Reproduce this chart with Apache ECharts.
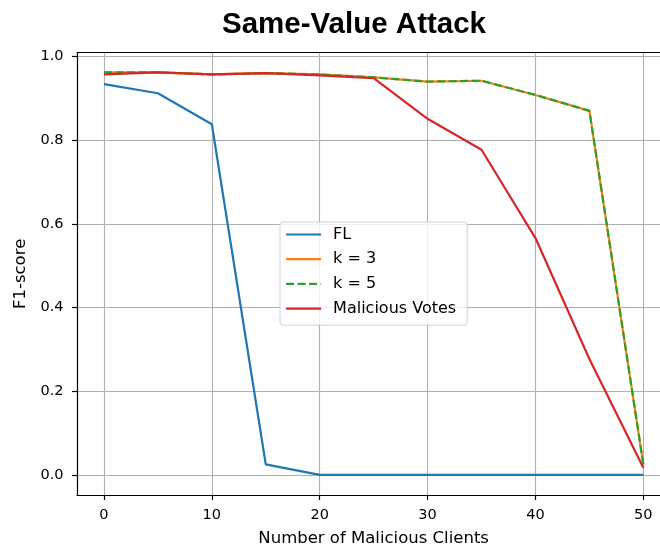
<!DOCTYPE html>
<html>
<head>
<meta charset="utf-8">
<script src="https://cdn.jsdelivr.net/npm/echarts@6/dist/echarts.min.js"></script>
<style>
  html, body { margin: 0; padding: 0; background: #fff; }
  #chart { width: 660px; height: 546px; }
</style>
</head>
<body>
<div id="chart"></div>
<script>
// Number of malicious clients on the x axis
const maliciousClients = [0, 5, 10, 15, 20, 25, 30, 35, 40, 45, 50];

// F1-score per method
const flScores = [0.934, 0.912, 0.838, 0.025, 0.0, 0.0, 0.0, 0.0, 0.0, 0.0, 0.0];
const k3Scores = [0.962, 0.962, 0.957, 0.960, 0.957, 0.950, 0.940, 0.942, 0.908, 0.870, 0.025];
const k5Scores = [0.962, 0.962, 0.957, 0.960, 0.957, 0.950, 0.940, 0.942, 0.908, 0.870, 0.025];
const maliciousVoteScores = [0.957, 0.962, 0.957, 0.960, 0.955, 0.948, 0.851, 0.777, 0.566, 0.277, 0.017];

// Tick positions
const xTicks = [0, 10, 20, 30, 40, 50];
const yTicks = [0.0, 0.2, 0.4, 0.6, 0.8, 1.0];

const FONT = 'DejaVu Sans';

function pairs(values) {
  return maliciousClients.map((x, i) => [x, values[i]]);
}

function lineSeries(name, values, color, dash) {
  return {
    name: name,
    type: 'line',
    data: pairs(values),
    symbol: 'none',
    showSymbol: false,
    animation: false,
    lineStyle: { color: color, width: 2.2, type: dash || 'solid', cap: 'butt' },
    itemStyle: { color: color }
  };
}

const chart = echarts.init(document.getElementById('chart'), null, { renderer: 'canvas' });

const gridLine = { show: true, lineStyle: { color: '#b0b0b0', width: 1.1 } };
const spine = { show: true, onZero: false, lineStyle: { color: '#000', width: 1.2 } };

chart.setOption({
  backgroundColor: '#ffffff',
  animation: false,
  title: {
    text: 'Same-Value Attack',
    left: 349,
    textAlign: 'center',
    top: 5,
    textStyle: { fontFamily: 'Liberation Sans', fontWeight: 'bold', fontSize: 29.5, color: '#000' }
  },
  grid: {
    left: 77,
    right: -10.3,
    top: 52.7,
    bottom: 51,
    containLabel: false,
    outerBoundsMode: 'none'
  },
  legend: {
    orient: 'vertical',
    left: 280,
    top: 222,
    padding: [4, 11, 8, 5],
    itemWidth: 35,
    itemHeight: 14,
    itemGap: 7.7,
    backgroundColor: 'rgba(255,255,255,0.8)',
    borderColor: '#d0d0d0',
    borderWidth: 1,
    borderRadius: 3,
    itemStyle: { color: 'rgba(0,0,0,0)', borderWidth: 0, opacity: 0 },
    lineStyle: { width: 2.2 },
    textStyle: { fontFamily: FONT, fontSize: 16, color: '#000', lineHeight: 17, padding: [0, 0, 0, 7] },
    data: ['FL', 'k = 3', 'k = 5', 'Malicious Votes']
  },
  xAxis: [{
    type: 'value',
    min: -2.5,
    max: 52.5,
    name: 'Number of Malicious Clients',
    nameLocation: 'middle',
    nameGap: 35,
    nameTextStyle: { fontFamily: FONT, fontSize: 16.5, color: '#000' },
    axisLine: spine,
    axisTick: { show: true, length: 5, customValues: xTicks, lineStyle: { color: '#000', width: 1.2 } },
    axisLabel: { customValues: xTicks, margin: 13, fontFamily: FONT, fontSize: 14.5, color: '#000' },
    splitLine: gridLine
  }, {
    type: 'value',
    position: 'top',
    min: -2.5,
    max: 52.5,
    axisLine: spine,
    axisTick: { show: false },
    axisLabel: { show: false },
    splitLine: { show: false }
  }],
  yAxis: {
    type: 'value',
    min: -0.048,
    max: 1.009,
    name: 'F1-score',
    nameLocation: 'middle',
    nameGap: 43,
    nameRotate: 90,
    nameTextStyle: { fontFamily: FONT, fontSize: 16.5, color: '#000' },
    axisLine: spine,
    axisTick: { show: true, length: 5, customValues: yTicks, lineStyle: { color: '#000', width: 1.2 } },
    axisLabel: {
      customValues: yTicks,
      margin: 13.5,
      fontFamily: FONT,
      fontSize: 14.5,
      color: '#000',
      formatter: v => v.toFixed(1)
    },
    splitLine: gridLine
  },
  series: [
    lineSeries('FL', flScores, '#1f77b4'),
    lineSeries('k = 3', k3Scores, '#ff7f0e'),
    lineSeries('k = 5', k5Scores, '#2ca02c', [8, 3.5]),
    lineSeries('Malicious Votes', maliciousVoteScores, '#d62728')
  ]
});
</script>
</body>
</html>
